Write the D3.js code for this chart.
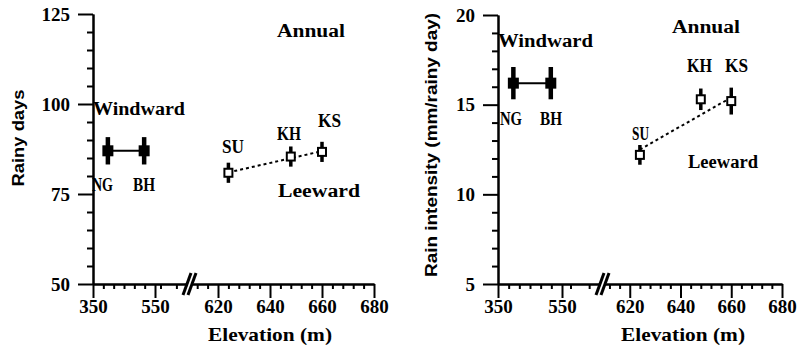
<!DOCTYPE html>
<html>
<head>
<meta charset="utf-8">
<script src="https://cdn.jsdelivr.net/npm/d3@7"></script>
<style>
    body { margin: 0; background: #fff; }
    svg { display: block; }
    .lbl { font-family: "Liberation Serif", "Times New Roman", serif; font-weight: bold; fill: #000; }
    .ttl { font-family: "Liberation Sans", Arial, sans-serif; font-weight: bold; fill: #000; }
    .axis path, .axis line { stroke: #000; stroke-width: 2; }
    .axis text { font-family: "Liberation Serif", "Times New Roman", serif; font-weight: bold; font-size: 19px; fill: #000; }
</style>
</head>
<body>
<svg id="chart" width="802" height="357"></svg>
<script>
// stations and elevations (m)
var windwardSites = ["NG", "BH"];
var windwardElev = [398, 515];
var leewardSites = ["SU", "KH", "KS"];
var leewardElev = [624, 648, 660];
var fitElev = [624, 660];

// rainy days
var rainyWindward = [87, 87];
var rainyWindwardErr = [3.8, 3.8];
var rainyLeeward = [80.9, 85.4, 86.7];
var rainyLeewardErr = [2.8, 2.8, 2.8];
var rainyFit = [81.0, 86.9];

// rain intensity (mm/rainy day)
var intWindward = [16.2, 16.2];
var intWindwardErr = [0.9, 0.9];
var intLeeward = [12.2, 15.3, 15.2];
var intLeewardErr = [0.55, 0.6, 0.75];
var intFit = [12.5, 15.4];

// axes
var xDomain = [350, 550, 600, 680];
var xTickValues = [350, 550, 620, 640, 660, 680];
var rainyTicks = [50, 75, 100, 125];
var intTicks = [5, 10, 15, 20];

var svg = d3.select("#chart");

var panels = [
    {
        xRange: [93, 155, 166, 374], yDomain: [50, 125], yRange: [284, 14],
        yTicks: rainyTicks, yMinorStep: 5, breakX: 190,
        wind: rainyWindward, windErr: rainyWindwardErr,
        lee: rainyLeeward, leeErr: rainyLeewardErr, fit: rainyFit,
        title: "Rainy days", titleX: 18, titleY: 138, titleLen: 97,
        xTitleX: 270,
        labels: [
            { t: "Annual", x: 277, y: 37, w: 68 },
            { t: "Windward", x: 93, y: 115, w: 92 },
            { t: "NG", x: 92, y: 191, w: 21 },
            { t: "BH", x: 133, y: 191, w: 22 },
            { t: "SU", x: 222, y: 153, w: 22 },
            { t: "KH", x: 277, y: 140, w: 24 },
            { t: "KS", x: 318, y: 127, w: 23 },
            { t: "Leeward", x: 278, y: 197, w: 82 }
        ]
    },
    {
        xRange: [498, 562, 579, 782], yDomain: [5, 20], yRange: [284, 15],
        yTicks: intTicks, yMinorStep: 1, breakX: 603,
        wind: intWindward, windErr: intWindwardErr,
        lee: intLeeward, leeErr: intLeewardErr, fit: intFit,
        title: "Rain intensity (mm/rainy day)", titleX: 431, titleY: 145, titleLen: 264,
        xTitleX: 683,
        labels: [
            { t: "Annual", x: 672, y: 33, w: 68 },
            { t: "Windward", x: 498, y: 47, w: 95 },
            { t: "NG", x: 500, y: 125, w: 22 },
            { t: "BH", x: 540, y: 125, w: 22 },
            { t: "SU", x: 632, y: 140, w: 17 },
            { t: "KH", x: 687, y: 72, w: 25 },
            { t: "KS", x: 725, y: 72, w: 23 },
            { t: "Leeward", x: 688, y: 168, w: 70 }
        ]
    }
];

panels.forEach(drawPanel);

function drawPanel(p) {
    var x = d3.scaleLinear().domain(xDomain).range(p.xRange);
    var y = d3.scaleLinear().domain(p.yDomain).range(p.yRange);
    var y0 = p.yRange[0], x0 = p.xRange[0];
    var g = svg.append("g");

    // minor ticks
    var xMinor = d3.range(1, 6).map(function (k) { return 350 + k * 200 / 6; })
        .concat([575])
        .concat(d3.range(604, 680, 4).filter(function (v) { return xTickValues.indexOf(v) < 0; }));
    g.append("g").attr("class", "axis").attr("transform", "translate(0," + y0 + ")")
        .call(d3.axisBottom(x).tickValues(xMinor).tickSize(5).tickSizeOuter(0).tickFormat(""));

    var yMinor = d3.range(p.yDomain[0], p.yDomain[1], p.yMinorStep)
        .filter(function (v) { return p.yTicks.indexOf(v) < 0; });
    g.append("g").attr("class", "axis").attr("transform", "translate(" + x0 + ",0)")
        .call(d3.axisLeft(y).tickValues(yMinor).tickSize(6).tickSizeOuter(0).tickFormat(""));

    // major axes
    g.append("g").attr("class", "axis").attr("transform", "translate(0," + y0 + ")")
        .call(d3.axisBottom(x).tickValues(xTickValues).tickSize(14).tickSizeOuter(0).tickPadding(2));

    g.append("g").attr("class", "axis").attr("transform", "translate(" + x0 + ",0)")
        .call(d3.axisLeft(y).tickValues(p.yTicks).tickSize(15).tickSizeOuter(0).tickPadding(8));

    // axis break
    var bx = p.breakX;
    g.append("polygon")
        .attr("points", [[bx - 6, y0 + 11], [bx - 1, y0 + 11], [bx + 7, y0 - 11], [bx + 2, y0 - 11]].join(" "))
        .attr("fill", "#fff");
    [-4, 1].forEach(function (o) {
        g.append("line")
            .attr("x1", bx + o - 3).attr("y1", y0 + 11)
            .attr("x2", bx + o + 5).attr("y2", y0 - 11)
            .attr("stroke", "#000").attr("stroke-width", 3);
    });

    // windward
    g.append("line")
        .attr("x1", x(windwardElev[0])).attr("y1", y(p.wind[0]))
        .attr("x2", x(windwardElev[1])).attr("y2", y(p.wind[1]))
        .attr("stroke", "#000").attr("stroke-width", 2);
    windwardElev.forEach(function (e, i) {
        g.append("line")
            .attr("x1", x(e)).attr("x2", x(e))
            .attr("y1", y(p.wind[i] - p.windErr[i])).attr("y2", y(p.wind[i] + p.windErr[i]))
            .attr("stroke", "#000").attr("stroke-width", 4.5);
        g.append("rect")
            .attr("x", x(e) - 5.5).attr("y", y(p.wind[i]) - 5.5)
            .attr("width", 11).attr("height", 11).attr("fill", "#000");
    });

    // leeward
    g.append("line")
        .attr("x1", x(fitElev[0])).attr("y1", y(p.fit[0]))
        .attr("x2", x(fitElev[1])).attr("y2", y(p.fit[1]))
        .attr("stroke", "#000").attr("stroke-width", 2)
        .attr("stroke-dasharray", "3,3");
    leewardElev.forEach(function (e, i) {
        g.append("line")
            .attr("x1", x(e)).attr("x2", x(e))
            .attr("y1", y(p.lee[i] - p.leeErr[i])).attr("y2", y(p.lee[i] + p.leeErr[i]))
            .attr("stroke", "#000").attr("stroke-width", 3.5);
        g.append("rect")
            .attr("x", x(e) - 4).attr("y", y(p.lee[i]) - 4)
            .attr("width", 8).attr("height", 8)
            .attr("fill", "#fff").attr("stroke", "#000").attr("stroke-width", 2);
    });

    // text
    p.labels.forEach(function (l) {
        g.append("text").attr("class", "lbl")
            .attr("x", l.x).attr("y", l.y)
            .attr("font-size", 18)
            .attr("textLength", l.w).attr("lengthAdjust", "spacingAndGlyphs")
            .text(l.t);
    });

    g.append("text").attr("class", "ttl")
        .attr("transform", "translate(" + p.titleX + "," + p.titleY + ") rotate(-90)")
        .attr("text-anchor", "middle").attr("dy", "0.35em")
        .attr("font-size", 16)
        .attr("textLength", p.titleLen).attr("lengthAdjust", "spacingAndGlyphs")
        .text(p.title);

    g.append("text").attr("class", "lbl")
        .attr("x", p.xTitleX).attr("y", 341)
        .attr("text-anchor", "middle")
        .attr("font-size", 19)
        .attr("textLength", 124).attr("lengthAdjust", "spacingAndGlyphs")
        .text("Elevation (m)");
}
</script>
</body>
</html>
